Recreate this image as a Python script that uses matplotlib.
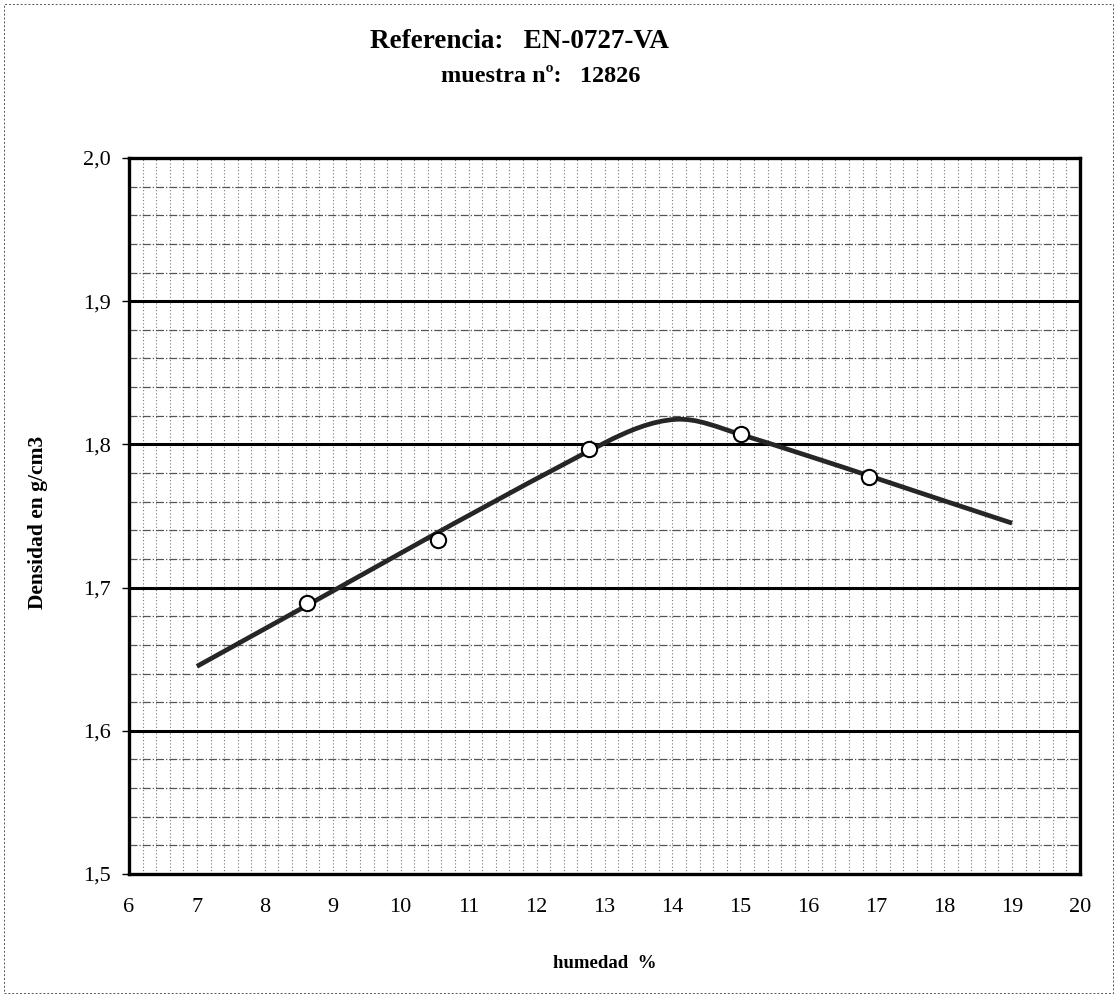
import matplotlib
matplotlib.use('Agg')
import matplotlib.pyplot as plt
from matplotlib.path import Path
from matplotlib.patches import PathPatch, Rectangle
import numpy as np

# puntos del ensayo (humedad %, densidad g/cm3)
humedad = [8.62, 10.55, 12.77, 15.01, 16.9]
densidad = [1.689, 1.733, 1.797, 1.807, 1.777]

# nudos de la curva suavizada
curva_x = [7.0, 13.0, 14.05, 15.0, 19.0]
curva_y = [1.645, 1.801, 1.8175, 1.807, 1.745]

x_ticks = list(range(6, 21))
y_ticks = [1.5, 1.6, 1.7, 1.8, 1.9, 2.0]
y_labels = ['1,5', '1,6', '1,7', '1,8', '1,9', '2,0']

plt.rcParams['font.family'] = ['Liberation Serif', 'DejaVu Serif']

W, H = 1117, 997
fig = plt.figure(figsize=(W / 100, H / 100), dpi=100)
ax = fig.add_axes([129 / W, 1 - 874 / H, (1080 - 129) / W, (874 - 158) / H])
ax.set_xlim(6, 20)
ax.set_ylim(1.5, 2.0)

# rejilla
for xv in np.arange(6.2, 20, 0.2):
    ax.axvline(xv, color='#777777', lw=0.8, ls=(0, (1, 2)), zorder=1)
for yv in np.arange(1.52, 2.0, 0.02):
    if abs(yv * 10 - round(yv * 10)) > 1e-6:
        ax.axhline(yv, color='#555555', lw=0.9, ls='-.', zorder=1)
for yv in y_ticks[1:-1]:
    ax.axhline(yv, color='black', lw=2.2, zorder=2)

# curva suavizada (Hermite cubica dibujada como Bezier)
cx = np.array(curva_x)
cy = np.array(curva_y)
n = len(cx)
m = np.zeros(n)
m[0] = (cy[1] - cy[0]) / (cx[1] - cx[0])
m[-1] = (cy[-1] - cy[-2]) / (cx[-1] - cx[-2])
for i in range(1, n - 1):
    m[i] = (cy[i + 1] - cy[i - 1]) / (cx[i + 1] - cx[i - 1])
verts = [(cx[0], cy[0])]
codes = [Path.MOVETO]
for i in range(n - 1):
    h = cx[i + 1] - cx[i]
    verts += [(cx[i] + h / 3, cy[i] + m[i] * h / 3),
              (cx[i + 1] - h / 3, cy[i + 1] - m[i + 1] * h / 3),
              (cx[i + 1], cy[i + 1])]
    codes += [Path.CURVE4] * 3
ax.add_patch(PathPatch(Path(verts, codes), fill=False, lw=3.4,
                       edgecolor='#262626', capstyle='butt', zorder=3))

ax.plot(humedad, densidad, 'o', ms=11, mfc='white', mec='black', mew=1.5, zorder=4)

ax.set_xticks(x_ticks)
ax.set_yticks(y_ticks)
ax.set_yticklabels(y_labels)
ax.tick_params(axis='x', length=0, pad=17, labelsize=16)
ax.tick_params(axis='y', length=5, width=1, pad=8, labelsize=16, direction='out')
for s in ax.spines.values():
    s.set_linewidth(2.4)
    s.set_zorder(5)

fig.text(520 / W, 1 - 42 / H, 'Referencia:   EN-0727-VA', ha='center', va='center',
         fontsize=19.5, fontweight='bold')
fig.text(541 / W, 1 - 76 / H, 'muestra nº:   12826', ha='center', va='center',
         fontsize=17.5, fontweight='bold')
fig.text(38 / W, 1 - 522 / H, 'Densidad en g/cm3', rotation=90, ha='center', va='center',
         fontsize=15.5, fontweight='bold')
fig.text(605 / W, 1 - 963 / H, 'humedad  %', ha='center', va='center',
         fontsize=13.5, fontweight='bold')

fig.add_artist(Rectangle((4 / W, 4 / H), 1 - 8 / W, 1 - 8 / H, transform=fig.transFigure,
                         fill=False, ls=(0, (2, 2)), lw=0.7, ec='#555555'))

fig.savefig('out.png', dpi=100)
plt.close(fig)
